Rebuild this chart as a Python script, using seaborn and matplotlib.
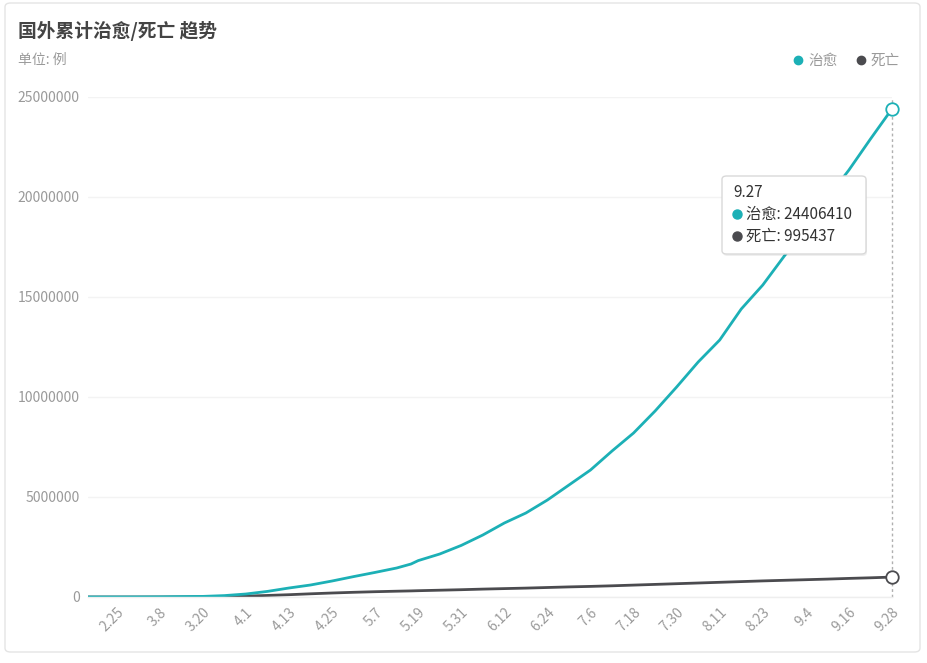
import matplotlib
matplotlib.use("Agg")
import matplotlib.pyplot as plt
from matplotlib.patches import FancyBboxPatch
from matplotlib.lines import Line2D
import seaborn as sns
import pandas as pd
import numpy as np

# ---- data ----
dates = ["2.17", "2.25", "3.2", "3.8", "3.14", "3.20", "3.26", "4.1", "4.7", "4.13",
         "4.19", "4.25", "5.1", "5.7", "5.13", "5.17", "5.19", "5.25", "5.31", "6.6",
         "6.12", "6.18", "6.24", "6.30", "7.6", "7.12", "7.18", "7.24", "7.30", "8.5",
         "8.11", "8.17", "8.23", "8.29", "9.4", "9.10", "9.16", "9.22", "9.28"]
recovered = [500, 1000, 3000, 8000, 20000, 30000, 70000, 150000, 280000, 450000,
             600000, 800000, 1020000, 1230000, 1450000, 1650000, 1820000, 2150000, 2580000, 3100000,
             3700000, 4200000, 4850000, 5600000, 6350000, 7300000, 8200000, 9300000, 10500000, 11750000,
             12850000, 14400000, 15600000, 17050000, 18450000, 19950000, 21350000, 22900000, 24406410]
deaths = [5, 30, 150, 600, 2500, 8000, 19000, 45000, 78000, 115000,
          160000, 200000, 235000, 265000, 290000, 305000, 315000, 340000, 365000, 395000,
          420000, 445000, 475000, 505000, 530000, 560000, 595000, 630000, 665000, 700000,
          735000, 770000, 805000, 835000, 865000, 895000, 930000, 960000, 995437]
tick_labels = ["2.25", "3.8", "3.20", "4.1", "4.13", "4.25", "5.7", "5.19", "5.31", "6.12",
               "6.24", "7.6", "7.18", "7.30", "8.11", "8.23", "9.4", "9.16", "9.28"]
series_names = ["治愈", "死亡"]
tooltip_date = "9.27"
tooltip_values = [24406410, 995437]

TEAL = "#1cb0b6"
DARK = "#4b4b4f"

def day_index(s):
    d = pd.Timestamp("2020-%s-%s" % tuple(s.split(".")))
    return (d - pd.Timestamp("2020-02-17")).days

x = [day_index(d) for d in dates]
df = pd.concat([
    pd.DataFrame({"day": x, "value": recovered, "series": series_names[0]}),
    pd.DataFrame({"day": x, "value": deaths, "series": series_names[1]}),
])

sns.set_theme(style="white")
plt.rcParams["font.family"] = ["Noto Sans CJK SC", "DejaVu Sans"]

fig = plt.figure(figsize=(9.27, 6.63), dpi=100)
W, H = 927, 663
ax = fig.add_axes([88 / W, 1 - 597 / H, (892 - 88) / W, (597 - 97) / H])

# card border
fig.patches.append(FancyBboxPatch((5 / W, 11 / H), (920 - 5) / W, (660 - 11) / H,
                                  boxstyle="round,pad=0,rounding_size=0.006",
                                  transform=fig.transFigure, facecolor="none",
                                  edgecolor="#e4e4e4", linewidth=1.0, zorder=-10))

sns.lineplot(data=df, x="day", y="value", hue="series",
             palette={series_names[0]: TEAL, series_names[1]: DARK},
             hue_order=series_names[::-1], linewidth=2.0, legend=False, ax=ax,
             sort=True)

last = x[-1]
ax.plot([last, last], [0, 25000000], color="#b0b0b0", linewidth=1, linestyle=(0, (2, 2)),
        zorder=1.5, clip_on=False)
ax.plot([last], [recovered[-1]], marker="o", markersize=9, markerfacecolor="white",
        markeredgecolor=TEAL, markeredgewidth=1.3, zorder=5, clip_on=False)
ax.plot([last], [deaths[-1]], marker="o", markersize=9, markerfacecolor="white",
        markeredgecolor=DARK, markeredgewidth=1.3, zorder=5, clip_on=False)

ax.set_xlim(0, last)
ax.set_ylim(0, 25000000)
ax.set_yticks(np.arange(0, 25000001, 5000000))
ax.set_yticklabels([str(v) for v in range(0, 25000001, 5000000)])
ax.set_xticks([day_index(t) for t in tick_labels])
ax.set_xticklabels(tick_labels, rotation=45, ha="right", rotation_mode="anchor")
ax.tick_params(axis="y", colors="#9a9a9a", labelsize=10, length=0, pad=6)
ax.tick_params(axis="x", colors="#9a9a9a", labelsize=10, length=0, pad=6)
ax.grid(axis="y", color="#f3f3f3", linewidth=1)
ax.set_xlabel("")
ax.set_ylabel("")
for s in ["top", "right", "left"]:
    ax.spines[s].set_visible(False)
ax.spines["bottom"].set_color("#eeeeee")
ax.spines["bottom"].set_linewidth(1)

# title / subtitle
fig.text(18 / W, 1 - 31 / H, "国外累计治愈/死亡 趋势", fontsize=13.5, fontweight="bold",
         color="#444444", va="center", ha="left")
fig.text(18 / W, 1 - 60 / H, "单位: 例", fontsize=10, color="#9a9a9a", va="center", ha="left")

# legend
handles = [Line2D([], [], marker="o", linestyle="none", markersize=6,
                  markerfacecolor=c, markeredgecolor=c) for c in (TEAL, DARK)]
leg = fig.legend(handles, series_names, loc="center right", bbox_to_anchor=(906 / W, 1 - 61 / H),
                 ncol=2, frameon=False, fontsize=10.5, labelcolor="#9a9a9a",
                 handletextpad=0.1, columnspacing=1.0, handlelength=1.2, borderaxespad=0)

# tooltip
bx0, by0, bx1, by1 = 722, 176, 866, 254
fig.patches.append(FancyBboxPatch(((bx0 + 1) / W, 1 - (by1 + 2) / H), (bx1 - bx0) / W, (by1 - by0) / H,
                                  boxstyle="round,pad=0,rounding_size=0.005",
                                  transform=fig.transFigure, facecolor="#00000010",
                                  edgecolor="none", zorder=9))
fig.patches.append(FancyBboxPatch((bx0 / W, 1 - by1 / H), (bx1 - bx0) / W, (by1 - by0) / H,
                                  boxstyle="round,pad=0,rounding_size=0.005",
                                  transform=fig.transFigure, facecolor="white",
                                  edgecolor="#d9d9d9", linewidth=1.0, zorder=10))
fig.text(733 / W, 1 - 192 / H, tooltip_date, fontsize=11, color="#333333",
         va="center", ha="left", zorder=11)
for i, (name, val, c) in enumerate(zip(series_names, tooltip_values, (TEAL, DARK))):
    yy = 1 - (214 + 22 * i) / H
    fig.add_artist(Line2D([737 / W], [yy], marker="o", markersize=6.5, markerfacecolor=c,
                          markeredgecolor=c, linestyle="none", transform=fig.transFigure,
                          zorder=11))
    fig.text(746 / W, yy, f"{name}: {val}", fontsize=11, color="#333333",
             va="center", ha="left", zorder=11)

fig.savefig("out.png", dpi=100, facecolor="white")
